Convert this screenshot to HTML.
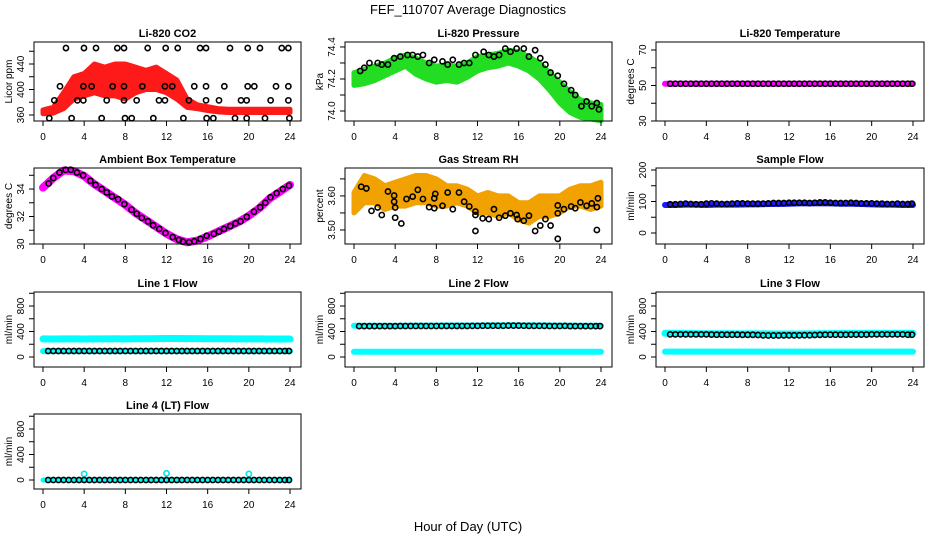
<!DOCTYPE html>
<html><head><meta charset="utf-8"><style>
html,body{margin:0;padding:0;background:#fff;}
svg{display:block;font-family:"Liberation Sans",sans-serif;}
</style></head><body>
<svg id="chart" width="936" height="540" viewBox="0 0 936 540" xmlns="http://www.w3.org/2000/svg">
<text x="468" y="14" text-anchor="middle" font-size="13">FEF_110707  Average Diagnostics</text>
<text x="468" y="531" text-anchor="middle" font-size="13">Hour of Day (UTC)</text>
</svg>
<script>
const HOURS=[0,1,2,3,4,5,6,7,8,9,10,11,12,13,14,15,16,17,18,19,20,21,22,23,24];
const BHOURS=[0.5,1,1.5,2,2.5,3,3.5,4,4.5,5,5.5,6,6.5,7,7.5,8,8.5,9,9.5,10,10.5,11,11.5,12,12.5,13,13.5,14,14.5,15,15.5,16,16.5,17,17.5,18,18.5,19,19.5,20,20.5,21,21.5,22,22.5,23,23.5,23.9];
const XTICKS=[0,4,8,12,16,20,24];

// CO2
const co2Lo=[362,363,370,385,390,395,390,390,385,395,400,400,395,385,372,370,367,365,364,364,364,364,364,364,364];
const co2Hi=[368,372,395,420,425,440,435,440,440,435,430,435,425,415,385,376,373,370,369,369,369,369,369,369,369];
const co2BlackHours=[2.23,3.98,5.15,7.22,7.87,10.17,11.92,13.09,15.26,15.84,18.17,19.89,21.08,23.2,23.84,1.65,3.92,4.73,6.77,7.87,9.65,11.85,12.56,14.7,15.84,17.62,19.89,20.53,22.64,23.84,1.1,3.34,3.92,6.19,7.87,9.1,11.27,11.85,14.18,15.84,17.1,19.24,19.79,22.12,23.84,0.61,2.78,5.7,7.97,8.62,10.72,13.64,15.9,16.55,18.66,19.79,21.57,23.94];
const co2BlackVals=[465,465,465,465,465,465,465,465,465,465,465,465,465,465,465,405,405,405,405,405,405,405,405,405,405,405,405,405,405,405,383,383,383,383,383,383,383,383,383,383,383,383,383,383,383,355,355,355,355,355,355,355,355,355,355,355,355,355];
// Pressure
const presLo=[74.16,74.17,74.19,74.22,74.25,74.28,74.23,74.20,74.18,74.19,74.18,74.21,74.25,74.27,74.28,74.30,74.28,74.25,74.20,74.13,74.05,73.99,73.96,73.95,73.94];
const presHi=[74.24,74.26,74.28,74.30,74.33,74.35,74.33,74.30,74.28,74.29,74.28,74.30,74.34,74.35,74.36,74.38,74.37,74.34,74.30,74.24,74.18,74.12,74.07,74.05,74.04];
const presBlackHours=[0.6,1.0,1.5,2.3,2.7,3.3,3.9,4.5,5.2,5.7,6.2,6.7,7.3,7.8,8.6,9.1,9.6,10.2,10.7,11.2,11.8,12.6,13.1,13.6,14.1,14.7,15.2,15.8,16.5,17.0,17.6,18.1,18.6,19.1,19.8,20.4,21.1,21.5,22.1,22.6,23.1,23.6,23.8];
const presBlackVals=[74.25,74.27,74.30,74.30,74.29,74.29,74.33,74.34,74.35,74.35,74.34,74.35,74.30,74.32,74.31,74.29,74.32,74.29,74.30,74.30,74.35,74.37,74.35,74.34,74.35,74.39,74.37,74.39,74.39,74.34,74.38,74.33,74.29,74.24,74.22,74.17,74.13,74.10,74.03,74.06,74.03,74.05,74.01];
// Li-820 temperature
const liTempMag=[51,51,51,51,51,51,51,51,51,51,51,51,51,51,51,51,51,51,51,51,51,51,51,51,51];
const liTempBlack=[51,51,51,51,51,51,51,51,51,51,51,51,51,51,51,51,51,51,51,51,51,51,51,51,51,51,51,51,51,51,51,51,51,51,51,51,51,51,51,51,51,51,51,51,51,51,51,51];
// Ambient box temperature
const ambMag=[34.1,34.8,35.35,35.3,34.95,34.35,33.85,33.35,32.85,32.25,31.75,31.25,30.75,30.35,30.12,30.25,30.55,30.9,31.25,31.6,32.05,32.6,33.3,33.8,34.3];
const ambBlackHours=[0.55,1.0,1.6,2.2,2.7,3.3,3.9,4.6,5.1,5.7,6.2,6.7,7.3,7.9,8.6,9.1,9.6,10.2,10.7,11.3,11.9,12.6,13.2,13.6,14.2,14.7,15.3,15.9,16.6,17.1,17.6,18.2,18.7,19.2,19.8,20.5,21.1,21.6,22.1,22.7,23.3,23.9];
const ambBlackVals=[34.4,34.8,35.2,35.4,35.4,35.2,35.0,34.6,34.3,34.0,33.75,33.46,33.26,32.9,32.5,32.2,31.9,31.65,31.36,31.1,30.8,30.5,30.3,30.17,30.12,30.2,30.37,30.6,30.74,30.9,31.1,31.3,31.5,31.65,31.97,32.35,32.67,33.0,33.4,33.7,34.0,34.25];
// Gas stream RH
const rhLo=[3.55,3.58,3.58,3.56,3.57,3.57,3.58,3.58,3.57,3.57,3.58,3.57,3.55,3.55,3.54,3.55,3.53,3.52,3.54,3.54,3.55,3.57,3.57,3.56,3.57];
const rhHi=[3.61,3.66,3.65,3.63,3.64,3.65,3.66,3.66,3.65,3.63,3.63,3.62,3.60,3.61,3.60,3.60,3.58,3.58,3.60,3.60,3.60,3.62,3.63,3.63,3.64];
const rhBlackHours=[0.7,1.2,1.7,2.3,2.7,3.3,3.9,3.9,4.0,4.0,4.6,5.1,5.7,6.2,6.7,7.3,7.8,7.8,7.9,8.6,9.1,9.6,10.2,10.7,11.2,11.8,11.8,11.8,12.5,13.1,13.6,14.1,14.7,15.2,15.8,15.9,16.5,17.0,17.6,18.1,18.6,19.1,19.8,19.8,19.8,20.4,21.1,21.5,22.0,22.6,23.1,23.6,23.7,23.6];
const rhBlackVals=[3.627,3.622,3.556,3.566,3.544,3.613,3.601,3.583,3.566,3.536,3.519,3.591,3.598,3.618,3.591,3.567,3.564,3.593,3.606,3.571,3.610,3.561,3.610,3.583,3.569,3.554,3.544,3.497,3.534,3.532,3.561,3.536,3.542,3.549,3.544,3.532,3.527,3.542,3.497,3.513,3.532,3.513,3.549,3.572,3.474,3.561,3.569,3.564,3.581,3.571,3.578,3.567,3.593,3.500];
// Sample flow
const sampleBlue=[89,89,90,90,89,90,90,90,91,91,92,92,93,94,94,94,94,93,93,92,91,90,90,89,89];
const sampleBlack=[91,91,92,93,92,91,91,93,94,93,92,92,93,94,94,93,93,93,93,94,95,95,95,96,96,96,96,95,96,97,97,96,95,95,95,96,95,94,94,94,93,93,92,92,93,92,92,93];
// Line flows
const line1Upper=[285,283,284,285,282,284,285,286,285,286,287,288,290,290,289,288,287,286,286,285,284,284,283,282,282];
const line1Lower=[92,93,93,93,93,93,93,93,93,93,93,93,93,93,93,93,93,93,93,93,93,93,93,93,93];
const line1Black=[94,94,94,94,94,94,94,94,94,94,94,94,94,94,94,94,94,94,94,94,94,94,94,94,94,94,94,94,94,94,94,94,94,94,94,94,94,94,94,94,94,94,94,94,94,94,94,94];
const line2Upper=[490,490,490,490,488,490,492,492,493,494,494,495,495,497,497,498,497,496,496,494,492,492,491,490,490];
const line2Lower=[82,82,82,82,82,82,82,82,82,82,82,82,82,82,82,82,82,82,82,82,82,82,82,82,82];
const line2Black=[484,484,484,484,484,484,484,484,486,486,486,486,486,486,486,486,487,487,487,487,487,487,488,488,490,490,490,490,490,492,492,492,490,488,488,488,488,486,486,486,488,484,484,484,484,484,484,484];
const line3Upper=[372,370,368,366,364,364,364,363,362,362,362,360,360,360,362,364,366,368,368,368,370,370,370,370,370];
const line3Lower=[85,85,85,85,85,85,85,85,85,85,85,85,85,85,85,85,85,85,85,85,85,85,85,85,85];
const line3Black=[355,355,355,355,355,355,355,355,352,350,350,350,350,350,348,348,348,345,340,338,338,338,340,340,340,340,342,342,345,348,350,350,350,350,350,352,352,352,352,355,355,355,355,355,355,355,350,350];
const line4Cyan=[0,0,0,0,0,0,0,0,0,0,0,0,0,0,0,0,0,0,0,0,0,0,0,0,0];
const line4SpikeHours=[4,12,20];
const line4SpikeVals=[95,105,95];
const line4Black=[0,0,0,0,0,0,0,0,0,0,0,0,0,0,0,0,0,0,0,0,0,0,0,0,0,0,0,0,0,0,0,0,0,0,0,0,0,0,0,0,0,0,0,0,0,0,0,0];

const NS="http://www.w3.org/2000/svg";
const svg=document.getElementById('chart');
function mk(tag,attrs,parent){const e=document.createElementNS(NS,tag);for(const k in attrs)e.setAttribute(k,attrs[k]);(parent||svg).appendChild(e);return e;}

const COLS=[34,345,656], COLW=[267,267,268];
const ROWS=[[42,121],[168,244],[292,367],[414,489]];

function makePanel(p){
  const L=COLS[p.col], W=COLW[p.col], T=ROWS[p.row][0], B=ROWS[p.row][1];
  const g=mk('g',{});
  
  
  const x=h=>L+9+h/24*(W-20);
  const y=v=>B-(v-p.ymin)/(p.ymax-p.ymin)*(B-T);
  const t=mk('text',{x:L+W/2,y:T-5,'text-anchor':'middle','font-size':11,'font-weight':'bold'},g);
  t.textContent=p.title;
  
  
  const plot=mk('g',{},g);
  
  
  p.draw(plot,x,y);
  const box=mk('rect',{x:L,y:T,width:W,height:B-T,fill:'none',stroke:'#000','stroke-width':1},g);
  
  
  // x axis
  const xa=mk('g',{},g);
  
  
  XTICKS.forEach(h=>{
    mk('line',{x1:x(h),x2:x(h),y1:B,y2:B+5,stroke:'#000'},xa);
    const tx=mk('text',{x:x(h),y:B+19,'text-anchor':'middle','font-size':10},xa);
    tx.textContent=h;
  });
  // y axis
  const ya=mk('g',{},g);
  
  
  p.yticks.forEach(v=>{mk('line',{x1:L-5,x2:L,y1:y(v),y2:y(v),stroke:'#000'},ya);});
  p.ylabels.forEach((v,i)=>{
    const tx=mk('text',{x:0,y:0,'text-anchor':'middle','font-size':10,transform:`translate(${L-10},${y(v)}) rotate(-90)`},ya);
    tx.textContent=p.ylabelText[i];
  });
  const yt=mk('text',{x:0,y:0,'text-anchor':'middle','font-size':10,transform:`translate(${L-22},${(T+B)/2}) rotate(-90)`},g);
  yt.textContent=p.ytitle;
  
  
}
function band(g,x,y,hrs,lo,hi,color){
  let pts=hrs.map((h,i)=>x(h)+','+y(hi[i]));
  for(let i=hrs.length-1;i>=0;i--)pts.push(x(hrs[i])+','+y(lo[i]));
  const e=mk('polygon',{points:pts.join(' '),fill:color,stroke:color,'stroke-width':5,'stroke-linejoin':'round'},g);
  
  
}
function thick(g,x,y,hrs,vals,color,w){
  const e=mk('polyline',{points:hrs.map((h,i)=>x(h)+','+y(vals[i])).join(' '),fill:'none',stroke:color,'stroke-width':w,'stroke-linecap':'round','stroke-linejoin':'round'},g);
  
  
}
function circles(g,x,y,hrs,vals,color){
  hrs.forEach((h,i)=>{
    const c=mk('circle',{cx:x(h),cy:y(vals[i]),r:2.6,fill:'none',stroke:color,'stroke-width':1.6},g);
    
    
  });
}

makePanel({name:'co2',title:'Li-820 CO2',col:0,row:0,ymin:350.6,ymax:474.5,yticks:[360,380,400,420,440,460],ylabels:[360,400,440],ylabelText:['360','400','440'],ytitle:'Licor ppm',
  draw:(g,x,y)=>{band(g,x,y,HOURS,co2Lo,co2Hi,'#ff1a1a');circles(g,x,y,co2BlackHours,co2BlackVals,'#000');}});
makePanel({name:'pressure',title:'Li-820 Pressure',col:1,row:0,ymin:73.9375,ymax:74.431,yticks:[74.0,74.1,74.2,74.3,74.4],ylabels:[74.0,74.2,74.4],ylabelText:['74.0','74.2','74.4'],ytitle:'kPa',
  draw:(g,x,y)=>{band(g,x,y,HOURS,presLo,presHi,'#22dd22');circles(g,x,y,presBlackHours,presBlackVals,'#000');}});
makePanel({name:'li-temperature',title:'Li-820 Temperature',col:2,row:0,ymin:30,ymax:74.5,yticks:[30,40,50,60,70],ylabels:[30,50,70],ylabelText:['30','50','70'],ytitle:'degrees C',
  draw:(g,x,y)=>{thick(g,x,y,HOURS,liTempMag,'#ff00ff',6);circles(g,x,y,BHOURS,liTempBlack,'#000');}});
makePanel({name:'ambient-temperature',title:'Ambient Box Temperature',col:0,row:1,ymin:30,ymax:35.53,yticks:[30,31,32,33,34,35],ylabels:[30,32,34],ylabelText:['30','32','34'],ytitle:'degrees C',
  draw:(g,x,y)=>{thick(g,x,y,HOURS,ambMag,'#ff00ff',8);circles(g,x,y,ambBlackHours,ambBlackVals,'#000');}});
makePanel({name:'gas-rh',title:'Gas Stream RH',col:1,row:1,ymin:3.4588,ymax:3.682,yticks:[3.50,3.55,3.60,3.65],ylabels:[3.50,3.60],ylabelText:['3.50','3.60'],ytitle:'percent',
  draw:(g,x,y)=>{band(g,x,y,HOURS,rhLo,rhHi,'#f2a200');circles(g,x,y,rhBlackHours,rhBlackVals,'#000');}});
makePanel({name:'sample-flow',title:'Sample Flow',col:2,row:1,ymin:-34.9,ymax:206.3,yticks:[0,50,100,150,200],ylabels:[0,100,200],ylabelText:['0','100','200'],ytitle:'ml/min',
  draw:(g,x,y)=>{thick(g,x,y,HOURS,sampleBlue,'#1a1aff',6);circles(g,x,y,BHOURS,sampleBlack,'#000');}});
const flowTicks=[0,200,400,600,800,1000];
makePanel({name:'line1-flow',title:'Line 1 Flow',col:0,row:2,ymin:-157,ymax:1020,yticks:flowTicks,ylabels:[0,400,800],ylabelText:['0','400','800'],ytitle:'ml/min',
  draw:(g,x,y)=>{thick(g,x,y,HOURS,line1Upper,'#00ffff',7);thick(g,x,y,HOURS,line1Lower,'#00ffff',6);circles(g,x,y,BHOURS,line1Black,'#000');}});
makePanel({name:'line2-flow',title:'Line 2 Flow',col:1,row:2,ymin:-157,ymax:1020,yticks:flowTicks,ylabels:[0,400,800],ylabelText:['0','400','800'],ytitle:'ml/min',
  draw:(g,x,y)=>{thick(g,x,y,HOURS,line2Upper,'#00ffff',6);thick(g,x,y,HOURS,line2Lower,'#00ffff',6);circles(g,x,y,BHOURS,line2Black,'#000');}});
makePanel({name:'line3-flow',title:'Line 3 Flow',col:2,row:2,ymin:-157,ymax:1020,yticks:flowTicks,ylabels:[0,400,800],ylabelText:['0','400','800'],ytitle:'ml/min',
  draw:(g,x,y)=>{thick(g,x,y,HOURS,line3Upper,'#00ffff',7);thick(g,x,y,HOURS,line3Lower,'#00ffff',6);circles(g,x,y,BHOURS,line3Black,'#000');}});
makePanel({name:'line4-flow',title:'Line 4 (LT) Flow',col:0,row:3,ymin:-141,ymax:1035,yticks:flowTicks,ylabels:[0,400,800],ylabelText:['0','400','800'],ytitle:'ml/min',
  draw:(g,x,y)=>{thick(g,x,y,HOURS,line4Cyan,'#00ffff',5);circles(g,x,y,line4SpikeHours,line4SpikeVals,'#00e5e5');circles(g,x,y,BHOURS,line4Black,'#000');}});
</script>
</body></html>
